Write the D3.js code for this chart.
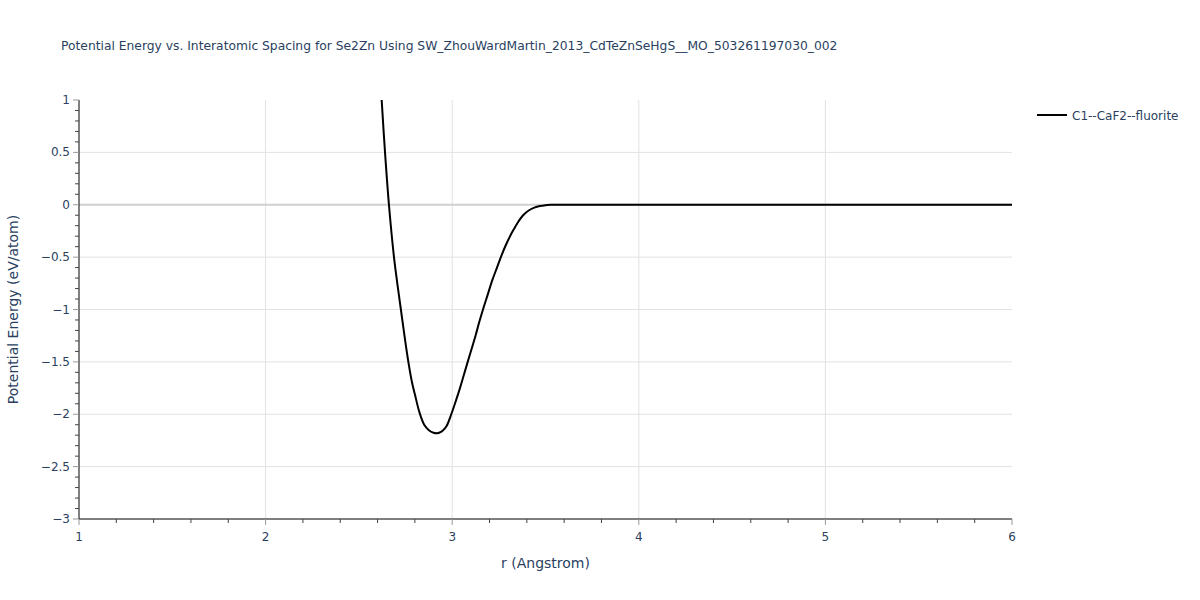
<!DOCTYPE html>
<html>
<head>
<meta charset="utf-8">
<script src="https://cdn.jsdelivr.net/npm/d3@7"></script>
<style>
  body { margin: 0; background: #fff; }
  svg { display: block; font-family: "DejaVu Sans", Verdana, sans-serif; }
</style>
</head>
<body>
<svg id="chart" width="1200" height="600"></svg>
<script>
const title = "Potential Energy vs. Interatomic Spacing for Se2Zn Using SW_ZhouWardMartin_2013_CdTeZnSeHgS__MO_503261197030_002";
const seriesName = "C1--CaF2--fluorite";
const rValues = [2.61, 2.622, 2.640, 2.661, 2.688, 2.705, 2.725, 2.745, 2.765, 2.785, 2.80, 2.825, 2.85, 2.875, 2.90, 2.916, 2.93, 2.95, 2.97, 2.995, 3.02, 3.04, 3.06, 3.083, 3.105, 3.125, 3.145, 3.165, 3.19, 3.215, 3.24, 3.265, 3.29, 3.31, 3.33, 3.355, 3.38, 3.41, 3.44, 3.47, 3.50, 3.53, 3.57, 4.0, 4.5, 5.0, 5.5, 6.0];
const energyValues = [1.35, 1.0, 0.5, 0.0, -0.5, -0.74, -1.0, -1.26, -1.5, -1.70, -1.81, -1.985, -2.10, -2.152, -2.177, -2.182, -2.177, -2.155, -2.112, -2.0, -1.87, -1.76, -1.64, -1.5, -1.37, -1.25, -1.12, -1.0, -0.86, -0.72, -0.60, -0.48, -0.375, -0.30, -0.235, -0.16, -0.10, -0.055, -0.028, -0.012, -0.004, -0.001, 0, 0, 0, 0, 0, 0];
const xTicks = [1, 2, 3, 4, 5, 6];
const yTicks = [1, 0.5, 0, -0.5, -1, -1.5, -2, -2.5, -3];

const svg = d3.select("#chart");
const m = { left: 79, right: 1012, top: 100, bottom: 519 };
const x = d3.scaleLinear().domain([1, 6]).range([m.left, m.right]);
const y = d3.scaleLinear().domain([-3, 1]).range([m.bottom, m.top]);
const txt = "#2a3f5f";

// gridlines
svg.append("g").selectAll("line").data(xTicks.filter(d => d > 1 && d < 6)).join("line")
  .attr("x1", d => x(d)).attr("x2", d => x(d)).attr("y1", m.top).attr("y2", m.bottom)
  .attr("stroke", "#e2e2e2").attr("stroke-width", 1);
svg.append("g").selectAll("line").data(yTicks.filter(d => d !== 0 && d > -3 && d < 1)).join("line")
  .attr("x1", m.left).attr("x2", m.right).attr("y1", d => y(d)).attr("y2", d => y(d))
  .attr("stroke", "#e2e2e2").attr("stroke-width", 1);
// zero line
svg.append("line").attr("x1", m.left).attr("x2", m.right).attr("y1", y(0)).attr("y2", y(0))
  .attr("stroke", "#d0d0d0").attr("stroke-width", 2);

// curve
const clipId = "plotclip";
svg.append("clipPath").attr("id", clipId).append("rect")
  .attr("x", m.left).attr("y", m.top).attr("width", m.right - m.left).attr("height", m.bottom - m.top);
const pts = rValues.map((r, i) => [r, energyValues[i]]);
const line = d3.line().x(d => x(d[0])).y(d => y(d[1])).curve(d3.curveCatmullRom.alpha(0.5));
svg.append("path").datum(pts).attr("d", line).attr("clip-path", `url(#${clipId})`)
  .attr("fill", "none").attr("stroke", "#000").attr("stroke-width", 2);

// x axis
const xAxis = svg.append("g");
xAxis.append("line").attr("x1", m.left).attr("x2", m.right).attr("y1", m.bottom).attr("y2", m.bottom)
  .attr("stroke", "#000").attr("stroke-width", 1);
const xMinor = d3.range(1, 6.001, 0.2).filter(v => Math.abs(v - Math.round(v)) > 1e-6);
xAxis.selectAll(".xmin").data(xMinor).join("line")
  .attr("x1", d => x(d)).attr("x2", d => x(d)).attr("y1", m.bottom).attr("y2", m.bottom + 4)
  .attr("stroke", "#444").attr("stroke-width", 1);
xAxis.selectAll(".xmaj").data(xTicks).join("line")
  .attr("x1", d => x(d)).attr("x2", d => x(d)).attr("y1", m.bottom).attr("y2", m.bottom + 6)
  .attr("stroke", "#999").attr("stroke-width", 1);
xAxis.selectAll("text").data(xTicks).join("text")
  .attr("x", d => x(d)).attr("y", m.bottom + 22).attr("text-anchor", "middle")
  .attr("font-size", 12).attr("fill", txt).text(d => d);

// y axis
const yAxis = svg.append("g");
yAxis.append("line").attr("x1", m.left).attr("x2", m.left).attr("y1", m.top).attr("y2", m.bottom)
  .attr("stroke", "#000").attr("stroke-width", 1);
const yMinor = d3.range(-3, 1.001, 0.1).filter(v => Math.abs(v * 2 - Math.round(v * 2)) > 1e-6);
yAxis.selectAll(".ymin").data(yMinor).join("line")
  .attr("x1", m.left - 4).attr("x2", m.left).attr("y1", d => y(d)).attr("y2", d => y(d))
  .attr("stroke", "#444").attr("stroke-width", 1);
yAxis.selectAll(".ymaj").data(yTicks).join("line")
  .attr("x1", m.left - 6).attr("x2", m.left).attr("y1", d => y(d)).attr("y2", d => y(d))
  .attr("stroke", "#999").attr("stroke-width", 1);
yAxis.selectAll("text").data(yTicks).join("text")
  .attr("x", m.left - 9).attr("y", d => y(d) + 4).attr("text-anchor", "end")
  .attr("font-size", 12).attr("fill", txt).text(d => d < 0 ? "\u2212" + Math.abs(d) : d);

// titles
svg.append("text").attr("x", 61).attr("y", 50).attr("font-size", 12.3).attr("fill", txt).text(title);
svg.append("text").attr("x", (m.left + m.right) / 2).attr("y", 568).attr("text-anchor", "middle")
  .attr("font-size", 14).attr("fill", txt).text("r (Angstrom)");
svg.append("text").attr("transform", `translate(18,${(m.top + m.bottom) / 2}) rotate(-90)`)
  .attr("text-anchor", "middle").attr("font-size", 14).attr("fill", txt).text("Potential Energy (eV/atom)");

// legend
const lg = svg.append("g").attr("transform", "translate(1037,115)");
lg.append("line").attr("x1", 0).attr("x2", 30).attr("y1", 0).attr("y2", 0).attr("stroke", "#000").attr("stroke-width", 2);
lg.append("text").attr("x", 35).attr("y", 4.5).attr("font-size", 12).attr("fill", txt).text(seriesName);
</script>
</body>
</html>
